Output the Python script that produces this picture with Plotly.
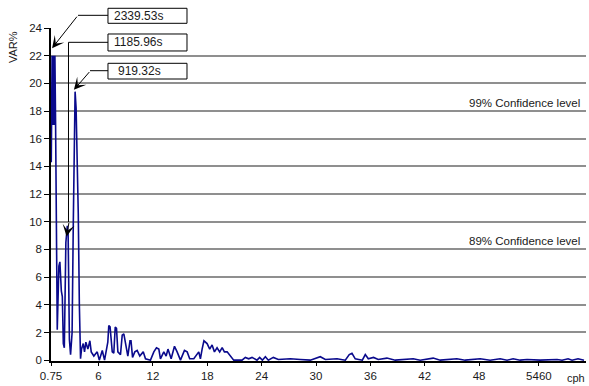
import plotly.graph_objects as go

# Variance spectrum (VAR%) against frequency in cycles per hour
freq_cph = [
    0.78, 0.87, 0.96, 1.04, 1.11, 1.18, 1.26, 1.44, 1.62, 1.73, 1.89, 2.00, 2.11, 2.22,
    2.39, 2.55, 2.64, 2.78, 2.91, 3.08, 3.21, 3.32, 3.41, 3.52, 3.76, 3.88, 4.01,
    4.12, 4.31, 4.45, 4.60, 4.82, 5.04, 5.19, 5.48, 5.85, 6.08, 6.41, 6.66, 7.02,
    7.13, 7.27, 7.51, 7.68, 7.84, 7.98, 8.13, 8.42, 8.61, 8.79, 8.97, 9.23, 9.47,
    9.58, 9.75, 10.00, 10.26, 10.55, 10.93, 11.18, 11.73, 12.10, 12.39, 12.65, 12.83,
    13.20, 13.46, 13.66, 14.01, 14.38, 14.67, 15.04, 15.48, 15.78, 16.06, 16.51,
    17.06, 17.24, 17.43, 17.63, 17.98, 18.27, 18.53, 18.79, 19.08, 19.37, 19.64,
    19.89, 20.19, 20.55, 20.92, 21.84, 22.20, 22.57, 22.94, 23.49, 23.78, 24.08,
    24.41, 24.74, 25.29, 25.84, 27.17, 28.27, 29.37, 30.47, 31.03, 32.32, 33.23,
    33.67, 33.97, 34.33, 35.11, 35.44, 35.77, 36.35, 36.87, 37.83, 38.74, 40.73,
    41.50, 42.93, 43.71, 45.55, 46.46, 48.12, 49.22, 50.32, 51.09, 51.75, 52.53,
    53.30, 54.73, 56.60, 57.16, 57.82, 58.26, 58.92, 59.58,
]
var_pct = [
    14.3, 22.0, 17.0, 22.0, 17.0, 22.0, 16.8, 2.2, 6.8, 7.1, 5.0, 4.6, 1.2, 0.9,
    8.5, 9.7, 9.2, 1.5, 0.4, 2.0, 9.9, 18.3, 19.4, 18.2, 10.6, 4.0, 0.1,
    0.8, 1.2, 0.6, 1.3, 0.8, 1.4, 0.6, 0.3, 0.6, 0.0, 0.7, 0.0, 1.3,
    2.5, 2.4, 0.6, 0.5, 2.4, 2.3, 0.6, 0.4, 1.8, 1.9, 1.2, 0.3, 1.4,
    1.4, 0.2, 0.6, 0.7, 0.3, 0.6, 0.1, 0.0, 0.6, 0.9, 0.8, 0.1,
    0.6, 0.3, 0.8, 0.1, 1.0, 0.6, 0.0, 0.7, 0.6, 0.1, 0.1,
    0.6, 0.1, 0.8, 1.4, 1.2, 0.8, 1.1, 0.6, 0.9, 0.6, 0.9,
    0.6, 0.6, 0.3, 0.0, 0.0, 0.2, 0.1, 0.2, 0.0, 0.2, 0.0,
    0.25, 0.0, 0.2, 0.05, 0.1, 0.05, 0.0, 0.25, 0.05, 0.1, 0.0,
    0.4, 0.5, 0.1, 0.0, 0.4, 0.1, 0.2, 0.05, 0.15, 0.0, 0.1,
    0.0, 0.15, 0.0, 0.1, 0.0, 0.1, 0.0, 0.1, 0.0, 0.1, 0.0,
    0.05, 0.0, 0.05, 0.0, 0.1, 0.0, 0.1, 0.0,
]

x_tick_vals = [0.75, 6, 12, 18, 24, 30, 36, 42, 48, 54.6]
x_tick_text = ["0.75", "6", "12", "18", "24", "30", "36", "42", "48", "5460"]

# Labelled periods and the index of the spectral point each one marks
period_labels = ["2339.53s", "1185.96s", "919.32s"]
period_idx = [1, 15, 22]

confidence_labels = ["99% Confidence level", "89% Confidence level"]
confidence_levels = [18, 8]

FONT = "Liberation Sans, Arial, sans-serif"
TXT = "#1a1a1a"

fig = go.Figure()
fig.add_trace(go.Scatter(
    x=freq_cph, y=var_pct, mode="lines",
    line=dict(color="#0a0a8c", width=1.6),
    hoverinfo="skip", showlegend=False,
))

fig.update_layout(
    width=589, height=386,
    margin=dict(l=51, r=3, t=28, b=25),
    paper_bgcolor="white", plot_bgcolor="white",
    font=dict(family=FONT, size=11, color=TXT),
    xaxis=dict(
        range=[0.75, 59.8], tickmode="array",
        tickvals=x_tick_vals, ticktext=x_tick_text,
        ticks="outside", ticklen=3, tickcolor="black",
        showline=True, linecolor="black", linewidth=1.5,
        showgrid=False, zeroline=False,
        tickfont=dict(size=11.5, color=TXT),
    ),
    yaxis=dict(
        range=[-0.06, 24], tick0=0, dtick=2,
        ticks="outside", ticklen=5, tickcolor="black",
        showline=True, linecolor="black", linewidth=1.5,
        showgrid=True, gridcolor="#8f8f8f", gridwidth=1.5,
        zeroline=False,
        tickfont=dict(size=11.5, color=TXT),
    ),
)

ann = []

# Axis titles
ann.append(dict(text="VAR%", xref="paper", yref="paper", x=-0.071, y=0.943,
                xanchor="center", yanchor="middle",
                textangle=-90, showarrow=False, font=dict(size=11, color=TXT)))
ann.append(dict(text="cph", xref="paper", yref="paper", x=0.981, y=-0.051,
                xanchor="center", yanchor="middle",
                showarrow=False, font=dict(size=11, color=TXT)))

# Confidence level captions, sitting just above their gridlines
for label, level in zip(confidence_labels, confidence_levels):
    ann.append(dict(text=label, xref="paper", yref="y", x=0.993, y=level,
                    xanchor="right", yanchor="bottom", yshift=0,
                    showarrow=False, font=dict(size=11.5, color=TXT)))

# Period label boxes: frame as a shape, text as an annotation inside it
box_x0, box_x1 = 0.1065, 0.2542
box_rows = [(1.0141, 1.0592), (0.9310, 0.9820), (0.8468, 0.8940)]
text_x = [0.114, 0.114, 0.1215]
for label, (y0, y1), tx in zip(period_labels, box_rows, text_x):
    fig.add_shape(type="rect", xref="paper", yref="paper",
                  x0=box_x0, x1=box_x1, y0=y0, y1=y1,
                  line=dict(color="black", width=1), fillcolor="white")
    ann.append(dict(text=label, xref="paper", yref="paper", x=tx, y=(y0 + y1) / 2,
                    xanchor="left", yanchor="middle", showarrow=False,
                    font=dict(size=12, color=TXT)))

# Arrow heads pointing at the peaks
arrow_cfg = [
    dict(ax=26, ay=-33, xshift=0, yshift=7.5),
    dict(ax=2.5, ay=-15, xshift=-0.7, yshift=-10.6),
    dict(ax=16.7, ay=-19.3, xshift=-1.2, yshift=1.8),
]
for idx, cfg in zip(period_idx, arrow_cfg):
    ann.append(dict(text="", x=freq_cph[idx], y=var_pct[idx], xref="x", yref="y",
                    showarrow=True, arrowhead=3, arrowsize=2, arrowwidth=1,
                    arrowcolor="black", standoff=0, **cfg))

fig.update_layout(annotations=ann)

# Leader lines from each box to its arrow
leader = dict(color="black", width=1)
fig.add_shape(type="line", xref="paper", yref="paper",
              x0=0.0505, y0=1.0381, x1=box_x0, y1=1.0381, line=leader)
fig.add_shape(type="path", xref="paper", yref="paper",
              path="M 0.1065 0.957 L 0.0327 0.957 L 0.0327 0.4174", line=leader)
fig.add_shape(type="line", xref="paper", yref="paper",
              x0=0.0729, y0=0.8718, x1=box_x0, y1=0.8718, line=leader)

fig.write_html("out.html")
